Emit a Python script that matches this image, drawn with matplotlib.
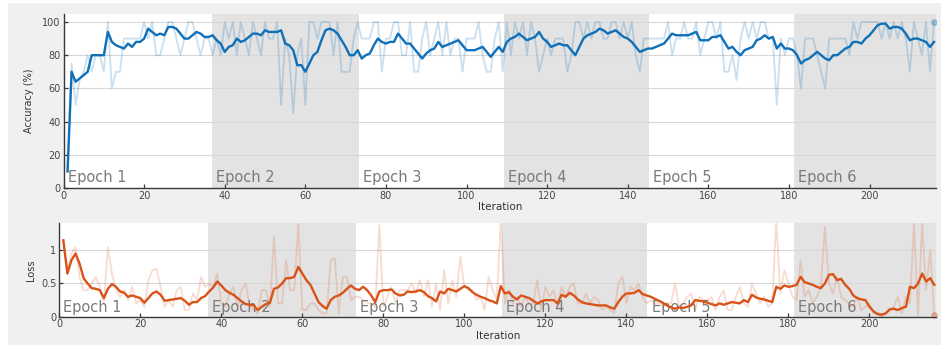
import numpy as np
import matplotlib
matplotlib.use("Agg")
import matplotlib.pyplot as plt
from matplotlib.patches import Rectangle
import matplotlib.transforms as mtransforms

# per-iteration values
acc_raw = [10, 75, 50, 65, 70, 80, 70, 80, 80, 70,
           100, 60, 70, 70, 90, 90, 90, 90, 90, 100,
           90, 100, 80, 80, 90, 100, 100, 90, 80, 90,
           100, 100, 90, 80, 90, 90, 80, 90, 80, 100,
           90, 100, 80, 100, 90, 80, 100, 90, 80, 100,
           90, 90, 100, 50, 90, 80, 45, 80, 90, 50,
           100, 100, 90, 100, 100, 100, 80, 100, 70, 70,
           70, 90, 100, 90, 90, 90, 100, 100, 70, 90,
           90, 100, 100, 80, 80, 100, 70, 70, 90, 100,
           80, 90, 100, 80, 100, 80, 90, 90, 70, 90,
           90, 90, 100, 80, 70, 70, 90, 100, 70, 100,
           80, 100, 90, 100, 80, 100, 90, 70, 80, 90,
           80, 90, 90, 90, 70, 80, 100, 100, 90, 100,
           90, 100, 100, 90, 90, 100, 100, 90, 100, 90,
           100, 80, 70, 90, 90, 90, 90, 90, 90, 100,
           80, 90, 90, 100, 90, 90, 100, 80, 90, 100,
           100, 90, 100, 70, 70, 80, 65, 90, 100, 90,
           100, 90, 100, 100, 90, 90, 50, 90, 80, 90,
           90, 80, 60, 90, 90, 90, 80, 70, 60, 90,
           90, 90, 90, 90, 80, 100, 90, 100, 100, 100,
           100, 100, 90, 100, 90, 100, 90, 100, 90, 70,
           100, 90, 80, 100, 70, 100]

acc_smooth = [10, 70, 64, 66, 68, 70, 80, 80, 80, 80,
              94, 88, 86, 85, 84, 87, 85, 88, 88, 90,
              96, 94, 92, 93, 92, 97, 97, 96, 93, 90,
              90, 92, 94, 93, 91, 91, 92, 89, 87, 82,
              85, 86, 90, 88, 89, 91, 93, 93, 92, 95,
              94, 94, 94, 95, 87, 86, 83, 74, 74, 70,
              75, 80, 82, 89, 95, 96, 95, 93, 89, 85,
              80, 80, 83, 78, 80, 81, 86, 90, 88, 87,
              88, 88, 93, 90, 87, 87, 84, 81, 78, 81,
              83, 84, 88, 85, 86, 87, 88, 89, 86, 83,
              83, 83, 84, 85, 82, 79, 82, 85, 82, 88,
              90, 91, 93, 91, 89, 90, 91, 94, 90, 88,
              85, 86, 87, 86, 86, 83, 80, 85, 90, 92,
              93, 94, 96, 95, 93, 94, 95, 93, 91, 90,
              88, 85, 82, 83, 84, 84, 85, 86, 87, 90,
              93, 92, 92, 92, 92, 93, 94, 89, 89, 89,
              91, 91, 92, 88, 84, 85, 82, 80, 83, 84,
              85, 89, 90, 92, 90, 91, 84, 87, 84, 84,
              83, 80, 75, 77, 78, 80, 82, 80, 78, 77,
              80, 80, 82, 84, 85, 88, 88, 87, 90, 92,
              95, 98, 99, 99, 96, 97, 97, 96, 93, 89,
              90, 90, 89, 88, 85, 88]

loss_raw = [1.15, 0.70, 0.95, 1.05, 0.60, 0.40, 0.40, 0.50, 0.60, 0.45,
            0.20, 1.05, 0.65, 0.40, 0.30, 0.40, 0.25, 0.45, 0.20, 0.25,
            0.15, 0.55, 0.70, 0.72, 0.45, 0.15, 0.25, 0.15, 0.40, 0.45,
            0.10, 0.10, 0.35, 0.25, 0.60, 0.45, 0.50, 0.45, 0.65, 0.20,
            0.15, 0.35, 0.45, 0.15, 0.40, 0.50, 0.15, 0.10, 0.05, 0.40,
            0.40, 0.15, 1.20, 0.20, 0.20, 0.85, 0.40, 0.40, 1.40, 0.10,
            0.10, 0.20, 0.20, 0.10, 0.05, 0.05, 0.85, 0.88, 0.05, 0.60,
            0.60, 0.25, 0.30, 0.30, 0.25, 0.20, 0.20, 0.15, 1.38, 0.15,
            0.30, 0.45, 0.20, 0.40, 0.40, 0.40, 0.50, 0.35, 0.55, 0.30,
            0.55, 0.15, 0.50, 0.10, 0.70, 0.20, 0.55, 0.30, 0.90, 0.45,
            0.40, 0.40, 0.25, 0.30, 0.10, 0.60, 0.40, 0.25, 1.45, 0.20,
            0.40, 0.20, 0.30, 0.15, 0.30, 0.20, 0.20, 0.55, 0.10, 0.45,
            0.30, 0.40, 0.15, 0.45, 0.30, 0.45, 0.50, 0.20, 0.20, 0.35,
            0.20, 0.30, 0.25, 0.10, 0.15, 0.10, 0.05, 0.50, 0.60, 0.20,
            0.45, 0.40, 0.50, 0.30, 0.20, 0.25, 0.20, 0.20, 0.15, 0.20,
            0.20, 0.50, 0.15, 0.20, 0.30, 0.35, 0.10, 0.30, 0.25, 0.25,
            0.30, 0.10, 0.30, 0.40, 0.10, 0.10, 0.30, 0.45, 0.20, 0.15,
            0.50, 0.35, 0.20, 0.30, 0.15, 0.20, 1.45, 0.35, 0.70, 0.50,
            0.30, 0.25, 0.85, 0.30, 0.40, 0.20, 0.30, 0.45, 1.35, 0.50,
            0.35, 0.60, 0.30, 0.25, 0.20, 0.15, 0.30, 0.10, 0.15, 0.20,
            0.05, 0.05, 0.00, 0.05, 0.10, 0.15, 0.30, 0.05, 0.30, 0.20,
            1.40, 0.02, 1.40, 0.40, 1.00, 0.02]

loss_smooth = [1.15, 0.65, 0.85, 0.95, 0.80, 0.58, 0.50, 0.43, 0.42, 0.40,
               0.28, 0.42, 0.49, 0.45, 0.38, 0.36, 0.30, 0.32, 0.30, 0.28,
               0.21, 0.28, 0.35, 0.38, 0.33, 0.24, 0.25, 0.26, 0.27, 0.28,
               0.24, 0.18, 0.22, 0.22, 0.28, 0.31, 0.38, 0.44, 0.53, 0.47,
               0.40, 0.36, 0.33, 0.28, 0.23, 0.19, 0.18, 0.17, 0.10, 0.15,
               0.19, 0.21, 0.42, 0.44, 0.50, 0.58, 0.58, 0.60, 0.75, 0.65,
               0.55, 0.48, 0.35, 0.22, 0.16, 0.12, 0.25, 0.30, 0.32, 0.36,
               0.42, 0.47, 0.42, 0.40, 0.45, 0.40, 0.32, 0.22, 0.38, 0.40,
               0.40, 0.41, 0.35, 0.32, 0.33, 0.38, 0.37, 0.38, 0.40, 0.37,
               0.31, 0.28, 0.23, 0.38, 0.35, 0.42, 0.40, 0.38, 0.42, 0.46,
               0.43, 0.37, 0.33, 0.30, 0.28, 0.25, 0.23, 0.20, 0.46, 0.35,
               0.37, 0.30, 0.26, 0.32, 0.30, 0.28, 0.24, 0.20, 0.23, 0.25,
               0.25, 0.25, 0.20, 0.33, 0.30, 0.36, 0.32, 0.26, 0.22, 0.20,
               0.19, 0.18, 0.17, 0.17, 0.17, 0.14, 0.12, 0.22, 0.30, 0.35,
               0.35, 0.36, 0.40, 0.34, 0.32, 0.30, 0.27, 0.24, 0.21, 0.17,
               0.14, 0.12, 0.14, 0.13, 0.15, 0.17, 0.25, 0.24, 0.23, 0.21,
               0.19, 0.17, 0.20, 0.18, 0.20, 0.22, 0.21, 0.20, 0.25, 0.22,
               0.33, 0.29, 0.27, 0.26, 0.24, 0.22, 0.45, 0.42, 0.47, 0.45,
               0.46, 0.48, 0.60, 0.52, 0.50, 0.48, 0.45, 0.43, 0.50, 0.63,
               0.64, 0.55, 0.57, 0.48, 0.42, 0.32, 0.28, 0.26, 0.25, 0.15,
               0.08, 0.04, 0.03, 0.05, 0.11, 0.12, 0.10, 0.13, 0.15, 0.45,
               0.43, 0.50, 0.65, 0.53, 0.58, 0.48]

epoch_edges = [0, 36.8, 73.2, 109.3, 145.2, 181.3, 216.5]
epoch_names = ["Epoch 1", "Epoch 2", "Epoch 3", "Epoch 4", "Epoch 5", "Epoch 6"]

iters = np.arange(1, len(acc_raw) + 1)

blue = (0.06, 0.44, 0.72)
orange = (0.851, 0.325, 0.098)
shade = "#e3e3e3"
txtc = "#454545"

fig = plt.figure(figsize=(9.41, 3.47), dpi=100)
fig.patch.set_facecolor("white")
fig.add_artist(Rectangle((8 / 941, 2 / 347), 933 / 941, 342 / 347,
                         transform=fig.transFigure, facecolor="#f0f0f0",
                         edgecolor="none", zorder=0))

ax1 = fig.add_axes([0.0675, 0.4582, 0.9272, 0.5014])
ax2 = fig.add_axes([0.0630, 0.0873, 0.9320, 0.2700])


def style(ax):
    ax.set_facecolor("white")
    for k in range(len(epoch_names)):
        if k % 2 == 1:
            ax.axvspan(epoch_edges[k], epoch_edges[k + 1], color=shade, lw=0, zorder=0.2)
        trans = mtransforms.blended_transform_factory(ax.transData, ax.transAxes)
        ax.text(epoch_edges[k] + 1.0, 0.015, epoch_names[k], transform=trans,
                fontsize=10.5, color="#7a7a7a", va="bottom", ha="left", zorder=1.5)
    ax.yaxis.grid(True, color="#d8d8d8", lw=0.8)
    ax.set_axisbelow(True)
    ax.spines["top"].set_visible(False)
    ax.spines["right"].set_visible(False)
    for s in ("left", "bottom"):
        ax.spines[s].set_color("#3a3a3a")
        ax.spines[s].set_linewidth(1.0)
    ax.tick_params(direction="in", length=3, width=0.9, colors="#3a3a3a",
                   labelsize=7, labelcolor=txtc, pad=2)
    ax.set_xlim(0, epoch_edges[-1])
    ax.set_xticks(np.arange(0, 201, 20))
    ax.set_xlabel("Iteration", fontsize=7.5, color="#333333", labelpad=1)


style(ax1)
ax1.plot(iters, acc_raw, color=blue, alpha=0.22, lw=1.3, zorder=2)
ax1.plot(iters[-1], acc_raw[-1], "o", color=blue, alpha=0.3, ms=4, zorder=2)
ax1.plot(iters, acc_smooth, color=blue, lw=1.7, zorder=3)
ax1.set_ylim(0, 104.8)
ax1.set_yticks([0, 20, 40, 60, 80, 100])
ax1.set_ylabel("Accuracy (%)", fontsize=7, color="#333333", labelpad=6)

style(ax2)
ax2.plot(iters, loss_raw, color=orange, alpha=0.2, lw=1.3, zorder=2)
ax2.plot(iters[-1], loss_raw[-1], "o", color=orange, alpha=0.3, ms=4, zorder=2, clip_on=False)
ax2.plot(iters, loss_smooth, color=orange, lw=1.7, zorder=3)
ax2.set_ylim(0, 1.41)
ax2.set_yticks([0, 0.5, 1])
ax2.set_yticklabels(["0", "0.5", "1"])
ax2.set_ylabel("Loss", fontsize=7, color="#333333", labelpad=4)

plt.savefig("out.png", dpi=100)
